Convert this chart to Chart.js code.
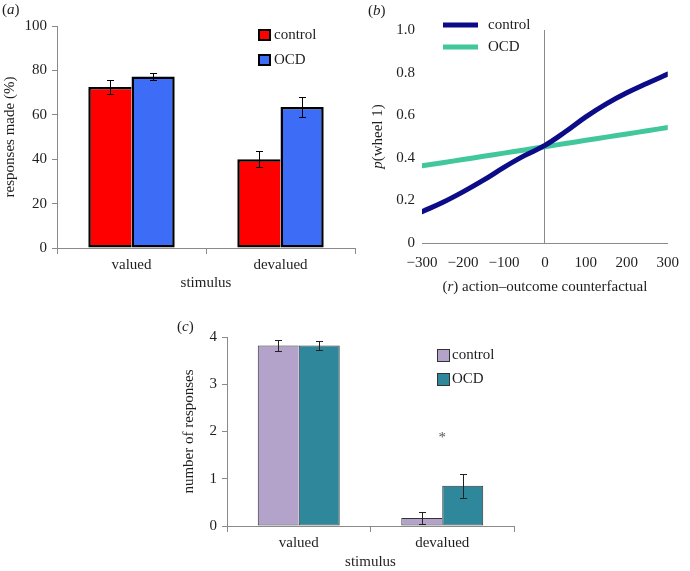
<!DOCTYPE html>
<html><head><meta charset="utf-8">
<script src="https://cdn.jsdelivr.net/npm/chart.js@4.4.1/dist/chart.umd.min.js"></script>
<style>
html,body{margin:0;padding:0;background:#fff;}
#wrap{position:relative;width:690px;height:571px;overflow:hidden;background:#fff;}
canvas{position:absolute;left:0;top:0;}
</style></head><body>
<div id="wrap">
<canvas id="ca" width="690" height="571"></canvas>
<canvas id="cb" width="690" height="571"></canvas>
<canvas id="cc" width="690" height="571"></canvas>
</div>
<script>
// ---------- data ----------
const stimuli = ['valued', 'devalued'];
const groups = ['control', 'OCD'];

// panel (a): responses made (%)
const aControl = [72.5, 40.0];
const aOCD = [77.3, 63.5];
const aControlErr = [3.2, 3.7];
const aOCDErr = [1.6, 4.4];

// panel (b): p(wheel 1) vs action-outcome counterfactual
const bX = [-300, -250, -200, -150, -100, -50, 0, 50, 100, 150, 200, 250, 300];
const bControl = [0.147, 0.19, 0.24, 0.295, 0.355, 0.41, 0.458, 0.522, 0.592, 0.653, 0.705, 0.75, 0.793];
const bOCD = [0.362, 0.377, 0.392, 0.407, 0.422, 0.437, 0.452, 0.467, 0.482, 0.497, 0.512, 0.527, 0.542];

// panel (c): number of responses
const cControl = [3.82, 0.17];
const cOCD = [3.82, 0.85];
const cControlErr = [0.11, 0.13];
const cOCDErr = [0.085, 0.26];
const cStarValue = 1.93;

// ---------- style ----------
const FAMILY = '"Liberation Serif", "DejaVu Serif", serif';
const TEXT = '#1e1e1e';
const AXIS = '#8a8a8a';
const FS = 15;
Chart.defaults.font.family = FAMILY;
Chart.defaults.font.size = FS;
Chart.defaults.color = TEXT;

function richText(ctx, segs, x, y, opts) {
  opts = opts || {};
  const size = opts.size || FS;
  ctx.save();
  ctx.translate(x, y);
  if (opts.rotate) ctx.rotate(-Math.PI / 2);
  ctx.textBaseline = 'middle';
  ctx.textAlign = 'left';
  ctx.fillStyle = opts.color || TEXT;
  const fonts = segs.map(s => (s[1] ? 'italic ' : '') + size + 'px ' + FAMILY);
  let total = 0;
  segs.forEach((s, i) => { ctx.font = fonts[i]; total += ctx.measureText(s[0]).width; });
  let cx = opts.left ? 0 : -total / 2;
  segs.forEach((s, i) => { ctx.font = fonts[i]; ctx.fillText(s[0], cx, 0); cx += ctx.measureText(s[0]).width; });
  ctx.restore();
}

function drawErrorBars(chart, errs, color) {
  const ctx = chart.ctx;
  const ys = chart.scales.y;
  ctx.save();
  ctx.strokeStyle = color;
  ctx.lineWidth = 1;
  chart.data.datasets.forEach((ds, di) => {
    const meta = chart.getDatasetMeta(di);
    meta.data.forEach((bar, i) => {
      const v = ds.data[i], e = errs[di][i];
      const x = Math.round(bar.x) + 0.5;
      const yt = Math.round(ys.getPixelForValue(v + e)) + 0.5;
      const yb = Math.round(ys.getPixelForValue(v - e)) + 0.5;
      ctx.beginPath();
      ctx.moveTo(x, yt); ctx.lineTo(x, yb);
      ctx.moveTo(x - 3.5, yt); ctx.lineTo(x + 3.5, yt);
      ctx.moveTo(x - 3.5, yb); ctx.lineTo(x + 3.5, yb);
      ctx.stroke();
    });
  });
  ctx.restore();
}

function boxLegend(ctx, x, y, w, h, fill, stroke, lw, label, tx) {
  ctx.save();
  ctx.fillStyle = fill;
  ctx.fillRect(x, y, w, h);
  ctx.strokeStyle = stroke;
  ctx.lineWidth = lw;
  ctx.strokeRect(x, y, w, h);
  ctx.restore();
  richText(ctx, [[label, false]], tx, y + h / 2, { left: true });
}

// ---------- panel (a) ----------
new Chart(document.getElementById('ca'), {
  type: 'bar',
  data: {
    labels: stimuli,
    datasets: [
      { label: groups[0], data: aControl, backgroundColor: '#ff0000', borderColor: '#000', borderWidth: 2.5, borderSkipped: 'right' },
      { label: groups[1], data: aOCD, backgroundColor: '#3d6cf6', borderColor: '#000', borderWidth: 2.5, borderSkipped: false }
    ]
  },
  options: {
    responsive: false, animation: false, devicePixelRatio: 1,
    layout: { padding: { left: 0, top: 26, right: 335, bottom: 271 } },
    plugins: { legend: { display: false }, tooltip: { enabled: false } },
    datasets: { bar: { categoryPercentage: 0.58, barPercentage: 1.0 } },
    scales: {
      x: {
        afterFit: s => { s.height = 52; },
        grid: { display: true, drawOnChartArea: false, drawTicks: true, tickLength: 6, color: AXIS, offset: true },
        border: { display: true, color: AXIS, width: 1 },
        ticks: { padding: 2, color: TEXT, font: { size: FS } },
        title: { display: true, text: 'stimulus', color: TEXT, font: { size: FS }, padding: { top: 0, bottom: 8 } }
      },
      y: {
        min: 0, max: 100,
        afterFit: s => { s.width = 57; },
        grid: { display: true, drawOnChartArea: false, drawTicks: true, tickLength: 5, color: AXIS },
        border: { display: true, color: AXIS, width: 1 },
        ticks: { stepSize: 20, padding: 5, color: TEXT, font: { size: FS } },
        title: { display: true, text: 'responses made (%)', color: TEXT, font: { size: FS }, padding: { top: 1, bottom: 0 } }
      }
    }
  },
  plugins: [{
    id: 'extrasA',
    afterDatasetsDraw(chart) { drawErrorBars(chart, [aControlErr, aOCDErr], '#000'); },
    afterDraw(chart) {
      const ctx = chart.ctx;
      boxLegend(ctx, 259, 30, 11, 10, '#ff0000', '#000', 2, groups[0], 274);
      boxLegend(ctx, 259, 55, 11, 10, '#3d6cf6', '#000', 2, groups[1], 274);
      richText(ctx, [['(', false], ['a', true], [')', false]], 2, 10, { left: true, size: 15 });
    }
  }]
});

// ---------- panel (b) ----------
new Chart(document.getElementById('cb'), {
  type: 'line',
  data: {
    datasets: [
      { label: groups[0], data: bX.map((x, i) => ({ x: x, y: bControl[i] })), borderColor: '#0c0c88', borderWidth: 5, pointRadius: 0, tension: 0.4, borderCapStyle: 'round', fill: false },
      { label: groups[1], data: bX.map((x, i) => ({ x: x, y: bOCD[i] })), borderColor: '#42c79c', borderWidth: 5, pointRadius: 0, tension: 0.4, borderCapStyle: 'round', fill: false }
    ]
  },
  options: {
    responsive: false, animation: false, devicePixelRatio: 1,
    layout: { padding: { left: 340, top: 30, right: 10, bottom: 271 } },
    plugins: { legend: { display: false }, tooltip: { enabled: false } },
    scales: {
      x: {
        type: 'linear', min: -300, max: 300,
        afterFit: s => { s.height = 57; },
        grid: { display: true, drawOnChartArea: true, drawTicks: false, lineWidth: 1,
          color: c => (c.tick && c.tick.value === 0) ? AXIS : 'rgba(0,0,0,0)' },
        border: { display: true, color: AXIS, width: 1 },
        ticks: { stepSize: 100, padding: 11, color: TEXT, font: { size: FS },
          callback: v => (v < 0 ? '\u2212' + Math.abs(v) : String(v)) }
      },
      y: {
        min: 0, max: 1,
        afterFit: s => { s.width = 82; },
        grid: { display: false, drawTicks: false },
        border: { display: false },
        ticks: { stepSize: 0.2, padding: 7, color: TEXT, font: { size: FS },
          callback: v => (v === 0 ? '0' : v.toFixed(1)) }
      }
    }
  },
  plugins: [{
    id: 'extrasB',
    afterDraw(chart) {
      const ctx = chart.ctx;
      ctx.save();
      ctx.lineWidth = 5;
      ctx.strokeStyle = '#0c0c88';
      ctx.beginPath(); ctx.moveTo(443, 25); ctx.lineTo(478, 25); ctx.stroke();
      ctx.strokeStyle = '#42c79c';
      ctx.beginPath(); ctx.moveTo(443, 47); ctx.lineTo(478, 47); ctx.stroke();
      ctx.restore();
      richText(ctx, [[groups[0], false]], 488, 25, { left: true });
      richText(ctx, [[groups[1], false]], 488, 47, { left: true });
      const a = chart.chartArea;
      richText(ctx, [['p', true], ['(wheel 1)', false]], 378, (a.top + a.bottom) / 2, { rotate: true });
      richText(ctx, [['(', false], ['r', true], [') action\u2013outcome counterfactual', false]], (a.left + a.right) / 2, 287, {});
      richText(ctx, [['(', false], ['b', true], [')', false]], 368, 11, { left: true });
    }
  }]
});

// ---------- panel (c) ----------
new Chart(document.getElementById('cc'), {
  type: 'bar',
  data: {
    labels: stimuli,
    datasets: [
      { label: groups[0], data: cControl, backgroundColor: '#b3a2c9', borderColor: '#333', borderWidth: 1, borderSkipped: 'right' },
      { label: groups[1], data: cOCD, backgroundColor: '#2f879b', borderColor: '#333', borderWidth: 1, borderSkipped: false }
    ]
  },
  options: {
    responsive: false, animation: false, devicePixelRatio: 1,
    layout: { padding: { left: 179, top: 337, right: 176, bottom: 0 } },
    plugins: { legend: { display: false }, tooltip: { enabled: false } },
    datasets: { bar: { categoryPercentage: 0.571, barPercentage: 1.0 } },
    scales: {
      x: {
        afterFit: s => { s.height = 45; },
        grid: { display: true, drawOnChartArea: false, drawTicks: true, tickLength: 6, color: AXIS, offset: true },
        border: { display: true, color: AXIS, width: 1 },
        ticks: { padding: 2, color: TEXT, font: { size: FS } },
        title: { display: true, text: 'stimulus', color: TEXT, font: { size: FS }, padding: { top: 0, bottom: 0 } }
      },
      y: {
        min: 0, max: 4,
        afterFit: s => { s.width = 48; },
        grid: { display: true, drawOnChartArea: false, drawTicks: true, tickLength: 5, color: AXIS },
        border: { display: true, color: AXIS, width: 1 },
        ticks: { stepSize: 1, padding: 5, color: TEXT, font: { size: FS } },
        title: { display: true, text: 'number of responses', color: TEXT, font: { size: FS }, padding: { top: 1, bottom: 0 } }
      }
    }
  },
  plugins: [{
    id: 'extrasC',
    afterDatasetsDraw(chart) { drawErrorBars(chart, [cControlErr, cOCDErr], '#222'); },
    afterDraw(chart) {
      const ctx = chart.ctx;
      boxLegend(ctx, 437.5, 349.5, 12, 12, '#b3a2c9', '#333', 1, groups[0], 452);
      boxLegend(ctx, 437.5, 373.5, 12, 12, '#2f879b', '#333', 1, groups[1], 452);
      const xs = chart.scales.x, ys = chart.scales.y;
      richText(ctx, [['*', false]], xs.getPixelForValue(1), ys.getPixelForValue(cStarValue) + 3, { color: '#555' });
      richText(ctx, [['(', false], ['c', true], [')', false]], 177, 327, { left: true });
    }
  }]
});
</script>
</body></html>
